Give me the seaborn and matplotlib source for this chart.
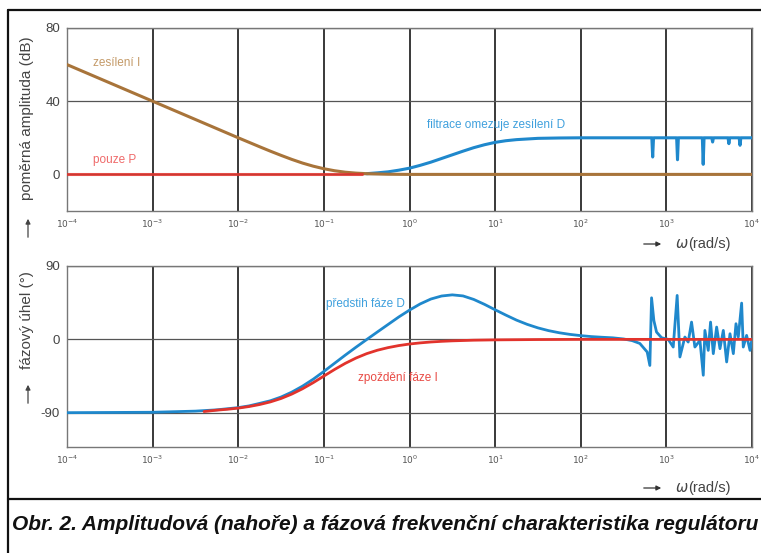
import numpy as np
import pandas as pd
import matplotlib
matplotlib.use("Agg")
import matplotlib.pyplot as plt
import seaborn as sns
from matplotlib.lines import Line2D

# ---------------- data (log10 of omega) -------------
decades = [-4, -3, -2, -1, 0, 1, 2, 3, 4]

# amplitude panel (dB)
logw_I = [-4, -3.5, -3, -2.5, -2, -1.75, -1.625, -1.5, -1.375, -1.25, -1.125, -1,
          -0.875, -0.75, -0.625, -0.5, -0.375, -0.25, 0, 1, 2, 3, 4]
gain_I = [60, 50, 40, 30, 20, 15.1, 12.7, 10.4, 8.2, 6.2, 4.5, 3.1,
          2.0, 1.2, 0.7, 0.4, 0.25, 0.1, 0, 0, 0, 0, 0]

logw_P = [-4, -2, -0.55]
gain_P = [0, 0, 0]

logw_D = [-0.5, -0.375, -0.25, -0.125, 0, 0.125, 0.25, 0.375, 0.5, 0.625, 0.75, 0.875,
          1, 1.125, 1.25, 1.5, 1.75, 2, 2.5,
          2.83, 2.84, 2.85, 3.12, 3.13, 3.14, 3.42, 3.43, 3.44,
          3.53, 3.54, 3.55, 3.72, 3.73, 3.74, 3.85, 3.86, 3.87, 4]
gain_D = [0.4, 0.85, 1.4, 2.3, 3.4, 4.95, 6.7, 8.7, 10.7, 12.7, 14.6, 16.2,
          17.5, 18.4, 19.0, 19.7, 19.9, 20, 20,
          20, 9.5, 20, 20, 8.0, 20, 20, 5.5, 20,
          20, 17.7, 20, 20, 16.8, 20, 20, 15.9, 20, 20]

# phase panel (degrees)
logw_phD = [-4, -3, -2.5, -2.25, -2, -1.875, -1.75, -1.625, -1.5, -1.375, -1.25, -1.125,
            -1, -0.875, -0.75, -0.625, -0.5, -0.375, -0.25, -0.125, 0, 0.125,
            0.25, 0.375, 0.5, 0.625, 0.75, 0.875, 1, 1.125, 1.25, 1.375,
            1.5, 1.625, 1.75, 1.875, 2, 2.125, 2.25, 2.375, 2.5,
            2.6, 2.69, 2.776, 2.807, 2.827, 2.854, 2.885, 2.944,
            3.022, 3.08, 3.126, 3.158, 3.216, 3.255, 3.294, 3.333, 3.392, 3.431,
            3.45, 3.489, 3.516, 3.548, 3.587, 3.626, 3.665, 3.704, 3.743, 3.782,
            3.813, 3.84, 3.879, 3.898, 3.937, 3.977, 4.0]
phase_D = [-89.9, -89.4, -88, -86.4, -83.7, -81.6, -78.5, -75.3, -70.7, -64.7, -57.4, -48.9,
           -39.3, -29.3, -19.3, -9.6, -0.2, 9.1, 18.3, 27.5, 35.9, 43.5,
           49.5, 53.2, 54.6, 53.3, 49.0, 43.0, 36.3, 29.8, 23.6, 18.4,
           14.1, 10.7, 8.1, 6.1, 4.6, 3.4, 2.6, 1.9, 0.5,
           -1.5, -5, -15.5, -32, 51, 23, 9, 2,
           0, -9.4, 53.9, -21.6, 2.9, -3.3, 21.2, -9.4, -1.2, -44,
           11, -13.5, 21.2, -17.5, 15.1, -11.4, 11, -27.7, 6.9, -17.5,
           19.2, 2.9, 44.5, -9.4, 4.9, -13.5, 0.8]

logw_phI = [-2.4, -2.25, -2.125, -2, -1.875, -1.75, -1.625, -1.5, -1.375, -1.25, -1.125,
            -1, -0.875, -0.75, -0.625, -0.5, -0.375, -0.25, -0.125,
            0, 0.125, 0.25, 0.375, 0.5, 0.75, 1, 1.5, 2, 3, 4]
phase_I = [-88.5, -86.8, -85.7, -84.3, -82.4, -79.9, -76.7, -72.5, -67.1, -60.6, -53.1,
           -45, -36.9, -29.4, -22.9, -17.5, -13.3, -10.1, -7.6,
           -5.7, -4.3, -3.2, -2.4, -1.8, -1.0, -0.6, -0.2, 0, 0, 0]

amp_ticks = [0, 40, 80]
phase_ticks = [-90, 0, 90]

# ---------------- style ----------------
sns.set_style("white")
plt.rcParams['font.family'] = ['Liberation Sans', 'DejaVu Sans']

BROWN = "#a8743a"
RED = "#e2332c"
BLUE = "#1f88cc"

W, H = 761, 553
fig = plt.figure(figsize=(W / 100, H / 100), dpi=100)

def fx(px):
    return px / W

def fy(py):
    return 1 - py / H

ax1 = fig.add_axes([fx(67), fy(211), fx(752) - fx(67), fy(28) - fy(211)])
ax2 = fig.add_axes([fx(67), fy(447), fx(752) - fx(67), fy(266) - fy(447)])

def frame(ax, yticks, ylim):
    ax.set_xscale('log')
    ax.set_xlim(1e-4, 1e4)
    ax.set_ylim(*ylim)
    ax.set_xticks([10.0 ** d for d in decades])
    ax.set_xticklabels([f"$10^{{{d}}}$" for d in decades], fontsize=6.5, color="#555555")
    ax.xaxis.set_minor_locator(matplotlib.ticker.NullLocator())
    ax.set_yticks(yticks)
    ax.set_yticklabels([str(t) for t in yticks], fontsize=9.5, color="#444444")
    for d in decades:
        ax.axvline(10.0 ** d, color="#2a2a2a", lw=1.3, zorder=1)
    for t in yticks:
        ax.axhline(t, color="#555555", lw=0.9, zorder=1)
    for s in ax.spines.values():
        s.set_color("#777777")
        s.set_linewidth(1.0)
    ax.tick_params(axis='both', direction='out', length=3, width=1, color="#555555", pad=2)
    ax.set_xlabel("")
    ax.set_ylabel("")

# ---------------- amplitude ----------------
sns.lineplot(x=[10.0 ** v for v in logw_D], y=gain_D, ax=ax1, color=BLUE, lw=2.2, zorder=3)
sns.lineplot(x=[10.0 ** v for v in logw_I], y=gain_I, ax=ax1, color=BROWN, lw=2.2, zorder=4)
sns.lineplot(x=[10.0 ** v for v in logw_P], y=gain_P, ax=ax1, color=RED, lw=2.2, alpha=0.85, zorder=5)
frame(ax1, amp_ticks, (-20, 80))

ax1.text(10 ** -3.7, 61, "zesílení I", color="#c49a68", fontsize=8.5, va="center")
ax1.text(10 ** -3.7, 8, "pouze P", color="#ef6a6a", fontsize=8.5, va="center")
ax1.text(10 ** 0.2, 27, "filtrace omezuje zesílení D", color="#3fa0dd", fontsize=8.5, va="center")

# ---------------- phase ----------------
sns.lineplot(x=[10.0 ** v for v in logw_phD], y=phase_D, ax=ax2, color=BLUE, lw=2.0, zorder=3)
sns.lineplot(x=[10.0 ** v for v in logw_phI], y=phase_I, ax=ax2, color=RED, lw=2.0, zorder=4)
frame(ax2, phase_ticks, (-132, 90))

ax2.text(10 ** -0.97, 44, "předstih fáze D", color="#3fa0dd", fontsize=8.5, va="center")
ax2.text(10 ** -0.6, -47, "zpoždění fáze I", color="#e84a44", fontsize=8.5, va="center")

# ---------------- axis labels ----------------
fig.text(fx(27), fy(118), "poměrná amplituda (dB)", rotation=90, fontsize=11,
         color="#444444", ha="center", va="center")
fig.text(fx(27), fy(320), "fázový úhel (°)", rotation=90, fontsize=11,
         color="#444444", ha="center", va="center")
for (y0, y1) in [(240, 216), (406, 382)]:
    fig.add_artist(matplotlib.patches.FancyArrowPatch(
        (fx(28), fy(y0)), (fx(28), fy(y1)), transform=fig.transFigure,
        arrowstyle="-|>", mutation_scale=7, color="#444444", lw=0.9))
for yy in [244, 488]:
    fig.add_artist(matplotlib.patches.FancyArrowPatch(
        (fx(641), fy(yy)), (fx(664), fy(yy)), transform=fig.transFigure,
        arrowstyle="-|>", mutation_scale=7, color="#333333", lw=0.9))
    fig.text(fx(675), fy(yy), r"$\omega$", fontsize=10.5, color="#444444", va="center")
    fig.text(fx(688), fy(yy), "(rad/s)", fontsize=10.5, color="#444444", va="center")

# ---------------- frame and caption ----------------
for xs, ys in [([8, 8], [10, 553]), ([8, 761], [10, 10]), ([8, 761], [499, 499])]:
    fig.add_artist(Line2D([fx(x) for x in xs], [fy(y) for y in ys],
                          transform=fig.transFigure, color="#111111", lw=1.6))

fig.text(fx(12), fy(525), "Obr. 2. Amplitudová (nahoře) a fázová frekvenční charakteristika regulátoru",
         fontsize=15, fontweight="bold", fontstyle="italic",
         color="#111111", va="center", ha="left")

fig.savefig("out.png", dpi=100)
